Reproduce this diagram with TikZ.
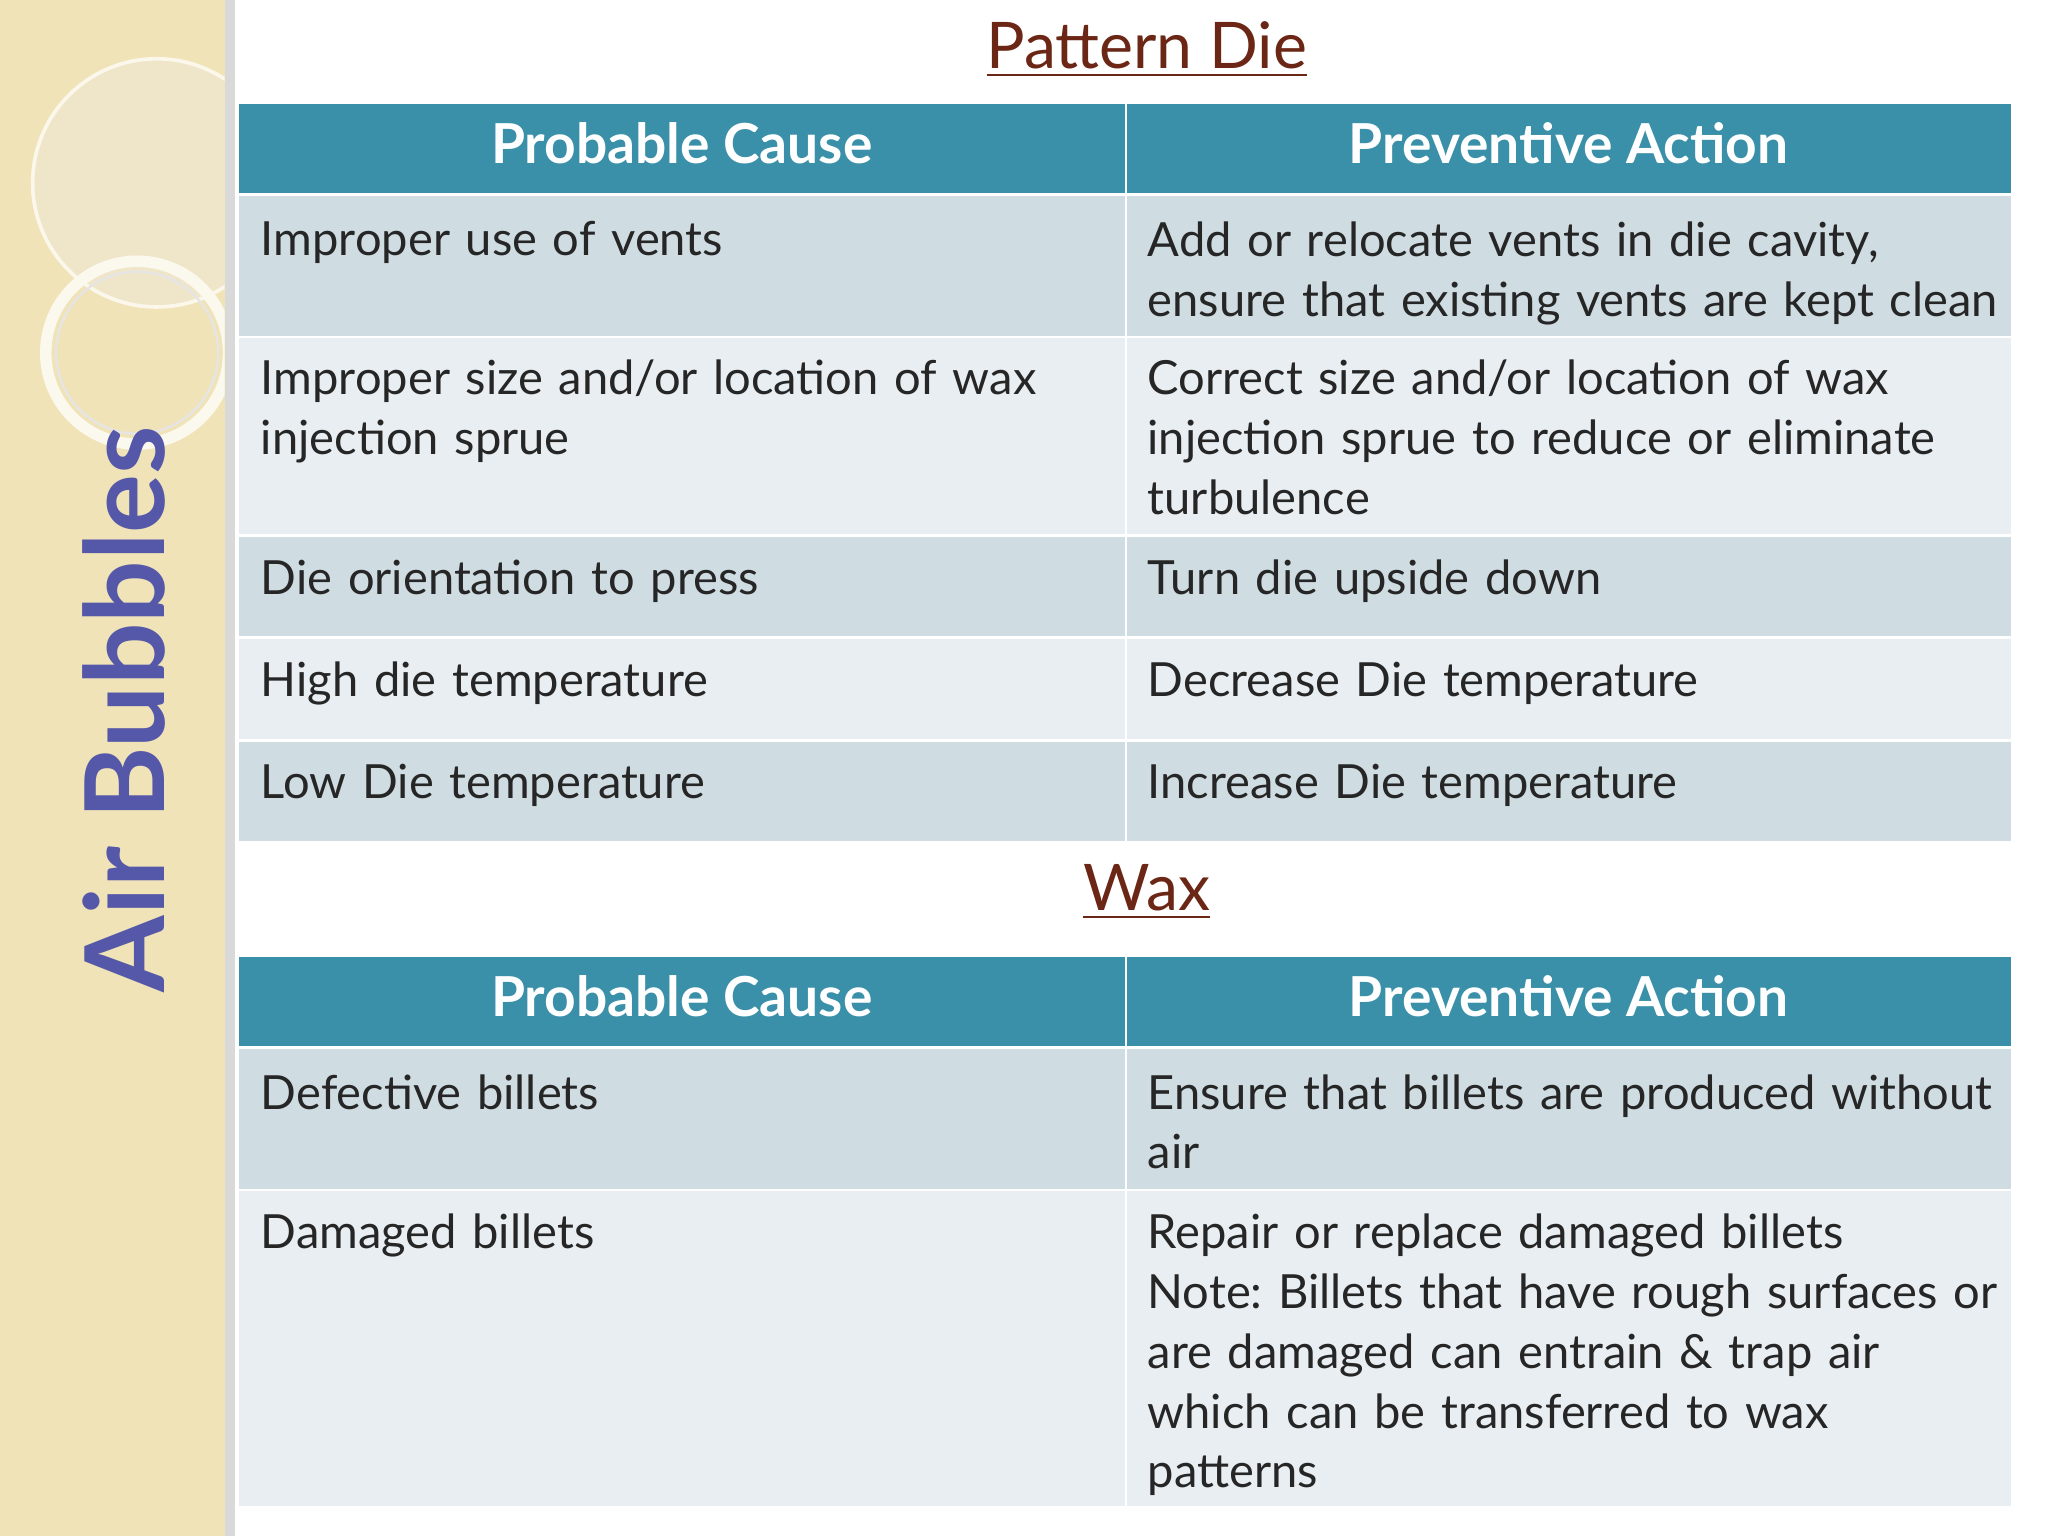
\documentclass[tikz,border=0pt]{standalone}
\usepackage{fontspec}
\setmainfont{Lato}
\frenchspacing
\begin{document}
\begin{tikzpicture}[x=0.01cm,y=-0.01cm,
  hdr/.style={fill=hcol,draw=none},
  rowa/.style={fill=rcolA,draw=none},
  rowb/.style={fill=rcolB,draw=none},
  htxt/.style={font=\fontsize{12}{15}\selectfont\bfseries,text=white},
  ctxt/.style={font=\fontsize{10.25}{13}\selectfont,anchor=north west,align=left,text width=#1,inner sep=0pt,text=black!85},
  ttl/.style={font=\fontsize{14}{17}\selectfont,text=tcol}]
\definecolor{hcol}{HTML}{3A90A8}
\definecolor{rcolA}{HTML}{CFDDE3}
\definecolor{rcolB}{HTML}{E8EEF1}
\definecolor{tcol}{HTML}{6B2616}
\definecolor{bcol}{HTML}{5558A8}
\definecolor{beige}{HTML}{F1E3B8}
\useasboundingbox (0,0) rectangle (1568,1176);
\fill[white] (0,0) rectangle (1568,1176);
% left panel
\fill[beige] (0,0) rectangle (172,1176);
\fill[black!15] (172,0) rectangle (180,1176);
\begin{scope}
\clip (0,0) rectangle (172,1176);
\fill[beige!70!black!20!white,opacity=0.4] (120,140) circle (95);
\draw[white!70!beige,line width=0.8pt] (120,140) circle (95);
\draw[white!75!beige,line width=2.5pt] (105,270) circle (70);
\draw[black!10,line width=0.5pt] (105,270) circle (62);
\end{scope}
\node[rotate=90,font=\fontsize{24}{28}\selectfont\bfseries,text=bcol] (side) at (95,543) {Air Bubbles};
% table 1
\node[ttl] (t1) at (878,38) {\underline{Pattern Die}};
\fill[hdr] (183,80) rectangle (861,148); \fill[hdr] (863,80) rectangle (1540,148);
\node[htxt] (h1) at (522,110) {Probable Cause};
\node[htxt] (h2) at (1201,110) {Preventive Action};
\foreach \a/\b/\s in {150/257/rowa,259/409/rowb,411/487/rowa,489/566/rowb,568/644/rowa}{
  \fill[\s] (183,\a) rectangle (861,\b); \fill[\s] (863,\a) rectangle (1540,\b);}
\node[ctxt=650] (c1) at (199,169) {Improper use of vents};
\node[ctxt=660] (a1) at (878,169) {Add or relocate vents in die cavity,\\ensure that existing vents are kept clean};
\node[ctxt=650] (c2) at (199,275) {Improper size and/or location of wax\\injection sprue};
\node[ctxt=660] (a2) at (878,275) {Correct size and/or location of wax\\injection sprue to reduce or eliminate\\turbulence};
\node[ctxt=650] (c3) at (199,428) {Die orientation to press};
\node[ctxt=660] (a3) at (878,428) {Turn die upside down};
\node[ctxt=650] (c4) at (199,506) {High die temperature};
\node[ctxt=660] (a4) at (878,506) {Decrease Die temperature};
\node[ctxt=650] (c5) at (199,584) {Low Die temperature};
\node[ctxt=660] (a5) at (878,584) {Increase Die temperature};
% table 2
\node[ttl] (t2) at (878,683) {\underline{Wax}};
\fill[hdr] (183,733) rectangle (861,801); \fill[hdr] (863,733) rectangle (1540,801);
\node[htxt] (h3) at (522,763) {Probable Cause};
\node[htxt] (h4) at (1201,763) {Preventive Action};
\foreach \a/\b/\s in {803/910/rowa,912/1153/rowb}{
  \fill[\s] (183,\a) rectangle (861,\b); \fill[\s] (863,\a) rectangle (1540,\b);}
\node[ctxt=650] (c6) at (199,822) {Defective billets};
\node[ctxt=660] (a6) at (878,822) {Ensure that billets are produced without\\air};
\node[ctxt=650] (c7) at (199,929) {Damaged billets};
\node[ctxt=660] (a7) at (878,929) {Repair or replace damaged billets\\Note: Billets that have rough surfaces or\\are damaged can entrain \& trap air\\which can be transferred to wax\\patterns};
\end{tikzpicture}
\end{document}
